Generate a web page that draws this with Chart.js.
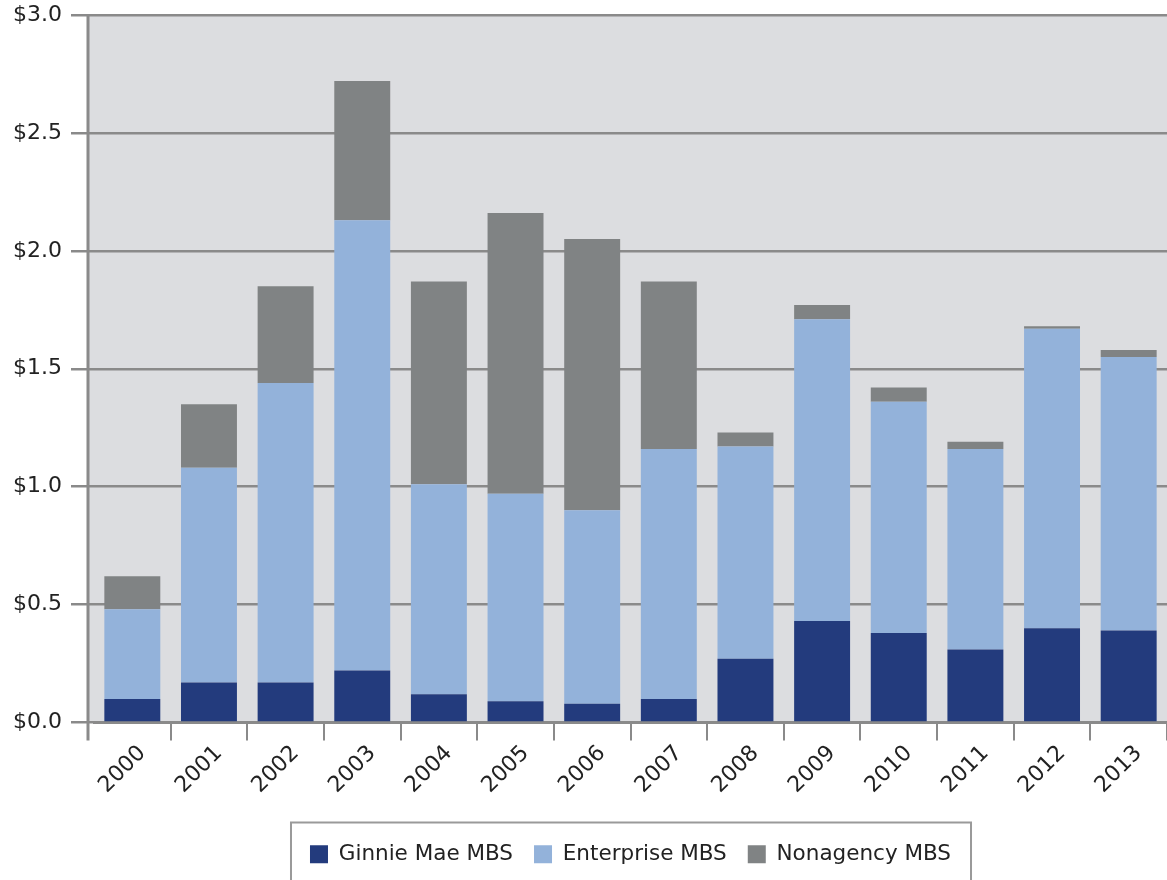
<!DOCTYPE html>
<html>
<head>
<meta charset="utf-8">
<script src="https://cdn.jsdelivr.net/npm/chart.js@4/dist/chart.umd.min.js"></script>
<style>
html,body{margin:0;padding:0;background:#fff;overflow:hidden;}
#wrap{width:1167px;height:880px;position:relative;}
</style>
</head>
<body>
<div id="wrap"><canvas id="c"></canvas></div>
<script>
const years = ["2000","2001","2002","2003","2004","2005","2006","2007","2008","2009","2010","2011","2012","2013"];
const ginnieMae = [0.10,0.17,0.17,0.22,0.12,0.09,0.08,0.10,0.27,0.43,0.38,0.31,0.40,0.39];
const enterprise = [0.38,0.91,1.27,1.91,0.89,0.88,0.82,1.06,0.90,1.28,0.98,0.85,1.27,1.16];
const nonagency = [0.14,0.27,0.41,0.59,0.86,1.19,1.15,0.71,0.06,0.06,0.06,0.03,0.01,0.03];
const seriesNames = ["Ginnie Mae MBS","Enterprise MBS","Nonagency MBS"];
const seriesColors = ["#233b7d","#93b2da","#808384"];

const FONT = "'DejaVu Sans', sans-serif";
const AXIS_GAP = 6; // y-axis line sits slightly left of the first category

const plotBg = {
  id:'plotBg',
  beforeDraw(chart){
    const {ctx, chartArea:a} = chart;
    ctx.save();
    ctx.fillStyle = '#dcdde0';
    ctx.fillRect(a.left - AXIS_GAP, a.top, a.right - a.left + AXIS_GAP, a.bottom - a.top);
    ctx.restore();
  },
  afterDatasetsDraw(chart){
    const {ctx, chartArea:a} = chart;
    ctx.save();
    ctx.strokeStyle = '#8a8a8a';
    ctx.lineWidth = 3;
    ctx.beginPath();
    ctx.moveTo(a.left - AXIS_GAP, a.top);
    ctx.lineTo(a.left - AXIS_GAP, a.bottom + 18);
    ctx.stroke();
    ctx.restore();
  }
};
const legendBorder = {
  id:'legendBorder',
  afterDraw(chart){
    const lg = chart.legend;
    if(!lg || !lg.legendHitBoxes || !lg.legendHitBoxes.length) return;
    const hb = lg.legendHitBoxes;
    const l = hb[0].left - 19, r = hb[hb.length-1].left + hb[hb.length-1].width + 20;
    const t = lg.top, b = lg.bottom + 30;
    const ctx = chart.ctx;
    ctx.save();
    ctx.strokeStyle = '#9a9a9a';
    ctx.lineWidth = 2;
    ctx.strokeRect(l, t, r - l, b - t);
    ctx.restore();
  }
};

new Chart(document.getElementById('c'), {
  type:'bar',
  data:{
    labels: years,
    datasets:[
      {label:seriesNames[0], data:ginnieMae, backgroundColor:seriesColors[0]},
      {label:seriesNames[1], data:enterprise, backgroundColor:seriesColors[1]},
      {label:seriesNames[2], data:nonagency, backgroundColor:seriesColors[2]}
    ]
  },
  options:{
    responsive:true,
    maintainAspectRatio:false,
    animation:false,
    devicePixelRatio:1,
    layout:{padding:{top:15,right:0,left:0,bottom:5}},
    datasets:{bar:{categoryPercentage:1.0, barPercentage:0.73}},
    plugins:{
      legend:{
        position:'bottom',
        fullSize:false,
        labels:{
          boxWidth:18, boxHeight:18, padding:21,
          color:'#222',
          font:{family:FONT, size:21.5}
        }
      },
      tooltip:{enabled:false}
    },
    scales:{
      x:{
        stacked:true,
        grid:{display:true, drawOnChartArea:false, drawTicks:true, tickLength:18,
              color:(c)=> c.index === 0 ? 'rgba(0,0,0,0)' : '#8a8a8a', lineWidth:2},
        border:{display:true, color:'#8a8a8a', width:3},
        ticks:{
          color:'#222', font:{family:FONT, size:22},
          maxRotation:45, minRotation:45, padding:0, labelOffset:10
        },
        afterFit(s){ s.height = 100; }
      },
      y:{
        stacked:true,
        min:0, max:3,
        grid:{color:'#8a8a8a', lineWidth:2.5, tickLength:23, drawTicks:true},
        border:{display:false},
        ticks:{
          stepSize:0.5, color:'#222', padding:9,
          font:{family:FONT, size:22},
          callback:(v)=>'$' + Number(v).toFixed(1)
        },
        afterFit(s){ s.width = 94; s.paddingTop = 0; s.paddingBottom = 0; }
      }
    }
  },
  plugins:[plotBg, legendBorder]
});
</script>
</body>
</html>
